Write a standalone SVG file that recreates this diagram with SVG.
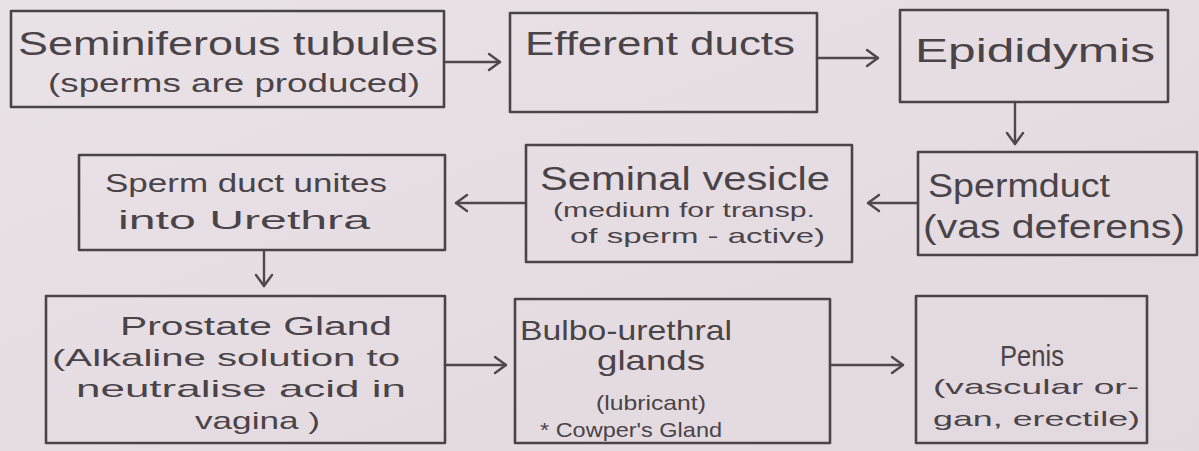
<svg xmlns="http://www.w3.org/2000/svg" width="1199" height="451" viewBox="0 0 1199 451">
<defs>
<style>
.bx{fill:none;stroke:#4a4347;stroke-width:2.6;stroke-linejoin:round}
.cn{fill:none;stroke:#4f474c;stroke-width:2.4;stroke-linecap:round}
text{font-family:"Liberation Sans","DejaVu Sans",sans-serif;fill:#4a4347}
.t1{font-size:33px}
.t2{font-size:26px}
.t3{font-size:21px}
</style>
<marker id="ah" markerWidth="16" markerHeight="20" refX="13" refY="10" orient="auto" markerUnits="userSpaceOnUse">
<path d="M2,2 L13,10 L2,18" fill="none" stroke="#4f474c" stroke-width="2.4" stroke-linecap="round" stroke-linejoin="round"/>
</marker>
<linearGradient id="bg" x1="0" y1="0" x2="1" y2="1">
<stop offset="0" stop-color="#e9e2e7"/>
<stop offset="1" stop-color="#e2d8df"/>
</linearGradient>
</defs>
<rect width="1199" height="451" fill="url(#bg)"/>
<g id="connectors">
<line class="cn" x1="444" y1="62" x2="500" y2="62" marker-end="url(#ah)"/>
<line class="cn" x1="817" y1="58" x2="878" y2="58" marker-end="url(#ah)"/>
<line class="cn" x1="1015" y1="102" x2="1015" y2="144" marker-end="url(#ah)"/>
<line class="cn" x1="918" y1="203" x2="868" y2="203" marker-end="url(#ah)"/>
<line class="cn" x1="526" y1="203" x2="456" y2="203" marker-end="url(#ah)"/>
<line class="cn" x1="264" y1="250" x2="264" y2="286" marker-end="url(#ah)"/>
<line class="cn" x1="445" y1="365" x2="506" y2="365" marker-end="url(#ah)"/>
<line class="cn" x1="830" y1="365" x2="903" y2="365" marker-end="url(#ah)"/>
</g>
<g id="n1">
<rect class="bx" x="11" y="11" width="433" height="96"/>
<text class="t1" x="18" y="55" textLength="420" lengthAdjust="spacingAndGlyphs">Seminiferous tubules</text>
<text class="t2" x="48" y="92" textLength="372" lengthAdjust="spacingAndGlyphs">(sperms are produced)</text>
</g>
<g id="n2">
<rect class="bx" x="510" y="13" width="307" height="99"/>
<text class="t1" x="525" y="55" textLength="270" lengthAdjust="spacingAndGlyphs">Efferent ducts</text>
</g>
<g id="n3">
<rect class="bx" x="900" y="10" width="268" height="92"/>
<text class="t1" x="915" y="62" textLength="240" lengthAdjust="spacingAndGlyphs">Epididymis</text>
</g>
<g id="n4">
<rect class="bx" x="918" y="152" width="279" height="103"/>
<text class="t1" x="928" y="197" textLength="182" lengthAdjust="spacingAndGlyphs">Spermduct</text>
<text class="t1" x="923" y="238" textLength="262" lengthAdjust="spacingAndGlyphs">(vas deferens)</text>
</g>
<g id="n5">
<rect class="bx" x="526" y="145" width="326" height="117"/>
<text class="t1" x="540" y="190" textLength="290" lengthAdjust="spacingAndGlyphs">Seminal vesicle</text>
<text class="t3" x="553" y="217" textLength="262" lengthAdjust="spacingAndGlyphs">(medium for transp.</text>
<text class="t3" x="570" y="243" textLength="255" lengthAdjust="spacingAndGlyphs">of sperm - active)</text>
</g>
<g id="n6">
<rect class="bx" x="79" y="155" width="366" height="95"/>
<text class="t2" x="105" y="192" textLength="282" lengthAdjust="spacingAndGlyphs">Sperm duct unites</text>
<text class="t2" x="118" y="229" textLength="252" lengthAdjust="spacingAndGlyphs">into Urethra</text>
</g>
<g id="n7">
<rect class="bx" x="46" y="296" width="399" height="147"/>
<text class="t2" x="120" y="335" textLength="272" lengthAdjust="spacingAndGlyphs">Prostate Gland</text>
<text style="font-size:24px" x="52" y="366" textLength="348" lengthAdjust="spacingAndGlyphs">(Alkaline solution to</text>
<text style="font-size:24px" x="76" y="397" textLength="330" lengthAdjust="spacingAndGlyphs">neutralise acid in</text>
<text style="font-size:24px" x="195" y="429" textLength="125" lengthAdjust="spacingAndGlyphs">vagina )</text>
</g>
<g id="n8">
<rect class="bx" x="515" y="299" width="315" height="144"/>
<text style="font-size:28px" x="520" y="340" textLength="212" lengthAdjust="spacingAndGlyphs">Bulbo-urethral</text>
<text style="font-size:28px" x="597" y="370" textLength="108" lengthAdjust="spacingAndGlyphs">glands</text>
<text class="t3" x="596" y="410" textLength="110" lengthAdjust="spacingAndGlyphs">(lubricant)</text>
<text class="t3" x="540" y="437" textLength="182" lengthAdjust="spacingAndGlyphs">* Cowper's Gland</text>
</g>
<g id="n9">
<rect class="bx" x="916" y="296" width="231" height="147"/>
<text style="font-size:30px" x="1000" y="366" textLength="64" lengthAdjust="spacingAndGlyphs">Penis</text>
<text class="t3" x="933" y="394" textLength="206" lengthAdjust="spacingAndGlyphs">(vascular or-</text>
<text class="t3" x="933" y="426" textLength="207" lengthAdjust="spacingAndGlyphs">gan, erectile)</text>
</g>
</svg>
